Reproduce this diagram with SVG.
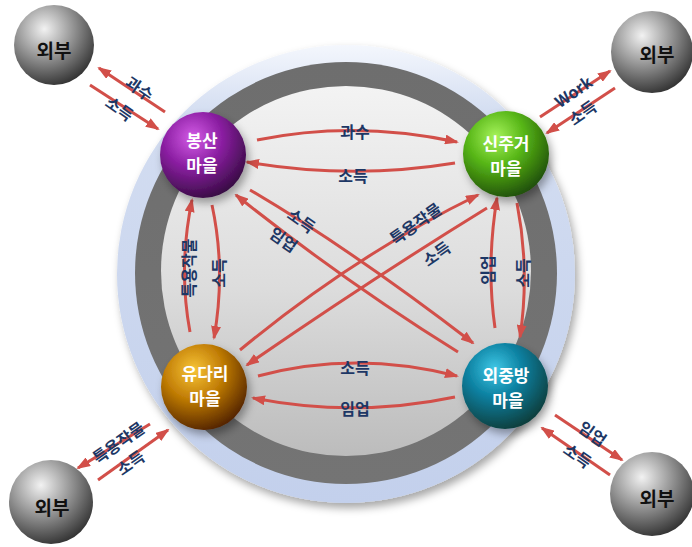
<svg xmlns="http://www.w3.org/2000/svg" width="692" height="547" viewBox="0 0 692 547">
  <defs>
    <style>
      .conn { fill: none; stroke: #d24f49; stroke-width: 3; marker-end: url(#head); }
      .lbl { font-family: "Noto Sans CJK KR", "Noto Sans", sans-serif; font-weight: 700; font-size: 16px; fill: #1d3765; text-anchor: middle; dominant-baseline: central; }
      .town { font-family: "Noto Sans CJK KR", "Noto Sans", sans-serif; font-weight: 700; font-size: 17px; fill: #ffffff; text-anchor: middle; dominant-baseline: central; }
      .ext { font-family: "Noto Sans CJK KR", "Noto Sans", sans-serif; font-weight: 700; font-size: 19px; fill: #111111; text-anchor: middle; dominant-baseline: central; }
    </style>
    <marker id="head" viewBox="0 0 14 10" refX="12" refY="5" markerWidth="14" markerHeight="10" markerUnits="userSpaceOnUse" orient="auto">
      <path d="M0,0 L14,5 L0,10 Z" fill="#d24f49"/>
    </marker>
    <filter id="shadow" x="-30%" y="-30%" width="170%" height="170%">
      <feDropShadow dx="3" dy="5" stdDeviation="4" flood-color="#000" flood-opacity="0.35"/>
    </filter>
    <linearGradient id="ringOuter" x1="0" y1="0" x2="0" y2="1">
      <stop offset="0" stop-color="#f4f7fd"/>
      <stop offset="0.15" stop-color="#d3ddf1"/>
      <stop offset="1" stop-color="#c3d0ec"/>
    </linearGradient>
    <linearGradient id="ringGray" x1="0" y1="0" x2="0" y2="1">
      <stop offset="0" stop-color="#6e6e6e"/>
      <stop offset="1" stop-color="#747474"/>
    </linearGradient>
    <linearGradient id="disc" x1="0" y1="0" x2="0" y2="1">
      <stop offset="0" stop-color="#f3f3f3"/>
      <stop offset="0.55" stop-color="#dcdcdc"/>
      <stop offset="1" stop-color="#bcbcbc"/>
    </linearGradient>
    <radialGradient id="gPurple" cx="0.38" cy="0.3" r="0.75">
      <stop offset="0" stop-color="#d35be6"/>
      <stop offset="0.45" stop-color="#8c1fa3"/>
      <stop offset="1" stop-color="#330a3e"/>
    </radialGradient>
    <radialGradient id="gGreen" cx="0.38" cy="0.3" r="0.75">
      <stop offset="0" stop-color="#a6f35a"/>
      <stop offset="0.45" stop-color="#56b516"/>
      <stop offset="1" stop-color="#1d4a06"/>
    </radialGradient>
    <radialGradient id="gGold" cx="0.38" cy="0.3" r="0.75">
      <stop offset="0" stop-color="#f7c437"/>
      <stop offset="0.45" stop-color="#c27e06"/>
      <stop offset="1" stop-color="#4e1f04"/>
    </radialGradient>
    <radialGradient id="gTeal" cx="0.38" cy="0.3" r="0.75">
      <stop offset="0" stop-color="#3fc7e6"/>
      <stop offset="0.45" stop-color="#0a7e9e"/>
      <stop offset="1" stop-color="#0a3a36"/>
    </radialGradient>
    <radialGradient id="gGray" cx="0.38" cy="0.3" r="0.75">
      <stop offset="0" stop-color="#f2f2f2"/>
      <stop offset="0.45" stop-color="#9a9a9a"/>
      <stop offset="1" stop-color="#2e2e2e"/>
    </radialGradient>
  </defs>

  <rect width="692" height="547" fill="#ffffff"/>

  <!-- central disc with rings -->
  <g id="base">
    <circle cx="346" cy="274" r="229" fill="url(#ringOuter)" filter="url(#shadow)"/>
    <circle cx="346" cy="273" r="211" fill="url(#ringGray)"/>
    <circle cx="346" cy="271" r="185" fill="url(#disc)"/>
  </g>

  <!-- connectors -->
  <g id="connectors">
    <!-- with outside -->
    <path class="conn" d="M165,112 L99,68"/>
    <path class="conn" d="M90,85 L158,129"/>
    <path class="conn" d="M540,117 L610,71"/>
    <path class="conn" d="M615,88 L547,133"/>
    <path class="conn" d="M150,424 L78,468"/>
    <path class="conn" d="M98,480 L168,430"/>
    <path class="conn" d="M555,415 L622,460"/>
    <path class="conn" d="M610,475 L542,428"/>
    <!-- top pair -->
    <path class="conn" d="M257,140 Q355,120 457,142"/>
    <path class="conn" d="M455,163 Q352,180 247,162"/>
    <!-- bottom pair -->
    <path class="conn" d="M258,376 Q355,350 457,376"/>
    <path class="conn" d="M455,397 Q355,418 253,398"/>
    <!-- left pair -->
    <path class="conn" d="M190,332 Q178,268 192,200"/>
    <path class="conn" d="M212,205 Q226,270 214,338"/>
    <!-- right pair -->
    <path class="conn" d="M495,328 Q486,265 497,198"/>
    <path class="conn" d="M517,203 Q530,270 520,337"/>
    <!-- diagonals -->
    <path class="conn" d="M250,190 Q352,250 473,343"/>
    <path class="conn" d="M458,352 Q345,282 236,195"/>
    <path class="conn" d="M240,350 Q355,255 478,195"/>
    <path class="conn" d="M487,208 Q370,280 247,365"/>
  </g>

  <!-- connector labels -->
  <g id="labels">
    <text class="lbl" transform="translate(140,88) rotate(35)">과수</text>
    <text class="lbl" transform="translate(120,108) rotate(35)">소득</text>
    <text class="lbl" transform="translate(573,91) rotate(-35)">Work</text>
    <text class="lbl" transform="translate(582,112) rotate(-35)">소득</text>
    <text class="lbl" transform="translate(118,442) rotate(-35)">특용작물</text>
    <text class="lbl" transform="translate(130,462) rotate(-35)">소득</text>
    <text class="lbl" transform="translate(593,433) rotate(35)">임업</text>
    <text class="lbl" transform="translate(578,455) rotate(35)">소득</text>

    <text class="lbl" x="355" y="131">과수</text>
    <text class="lbl" x="353" y="175">소득</text>
    <text class="lbl" x="355" y="367">소득</text>
    <text class="lbl" x="355" y="408">임업</text>

    <text class="lbl" transform="translate(188,268) rotate(-90)">특용작물</text>
    <text class="lbl" transform="translate(218,273) rotate(-90)">소득</text>
    <text class="lbl" transform="translate(487,270) rotate(-90)">임업</text>
    <text class="lbl" transform="translate(522,273) rotate(-90)">소득</text>

    <text class="lbl" transform="translate(302,220) rotate(35)">소득</text>
    <text class="lbl" transform="translate(284,239) rotate(35)">임업</text>
    <text class="lbl" transform="translate(415,223) rotate(-35)">특용작물</text>
    <text class="lbl" transform="translate(436,253) rotate(-35)">소득</text>
  </g>

  <!-- villages -->
  <g id="bongsan">
    <circle cx="203" cy="155" r="43" fill="url(#gPurple)" filter="url(#shadow)"/>
    <text class="town" x="202" y="139">봉산</text>
    <text class="town" x="202" y="164">마을</text>
  </g>
  <g id="sinjugeo">
    <circle cx="506" cy="154" r="43" fill="url(#gGreen)" filter="url(#shadow)"/>
    <text class="town" x="506" y="142">신주거</text>
    <text class="town" x="506" y="167">마을</text>
  </g>
  <g id="yudari">
    <circle cx="204" cy="387" r="43" fill="url(#gGold)" filter="url(#shadow)"/>
    <text class="town" x="205" y="372">유다리</text>
    <text class="town" x="205" y="397">마을</text>
  </g>
  <g id="oejungbang">
    <circle cx="505" cy="386" r="43" fill="url(#gTeal)" filter="url(#shadow)"/>
    <text class="town" x="506" y="374">외중방</text>
    <text class="town" x="508" y="399">마을</text>
  </g>

  <!-- outside -->
  <g id="outside-tl">
    <circle cx="54" cy="45" r="40" fill="url(#gGray)"/>
    <text class="ext" x="54" y="49">외부</text>
  </g>
  <g id="outside-tr">
    <circle cx="652" cy="52" r="41" fill="url(#gGray)"/>
    <text class="ext" x="657" y="53">외부</text>
  </g>
  <g id="outside-bl">
    <circle cx="51" cy="502" r="42" fill="url(#gGray)"/>
    <text class="ext" x="52" y="506">외부</text>
  </g>
  <g id="outside-br">
    <circle cx="652" cy="494" r="42" fill="url(#gGray)"/>
    <text class="ext" x="657" y="497">외부</text>
  </g>
</svg>
